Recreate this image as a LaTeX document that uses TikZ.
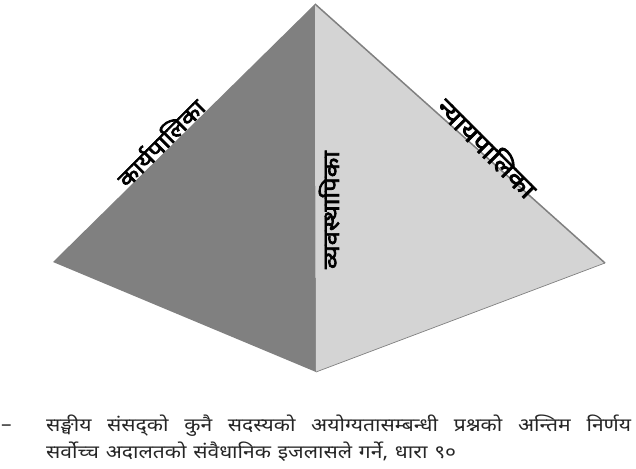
\documentclass[tikz,border=0pt]{standalone}
\usepackage{fontspec}
\setmainfont{Noto Sans}
\newfontfamily\deva[Script=Devanagari,FakeStretch=1.14]{Noto Sans}
\newfontfamily\devabold[Script=Devanagari,FakeBold=3,FakeStretch=1.14]{Noto Sans}
\tikzset{
  facedark/.style={fill=black!50!white, draw=none},
  facelight/.style={fill=black!17!white, draw=none},
  edgeline/.style={draw=black!50!white, line width=1.5pt},
  sidelabel/.style={font=\devabold\fontsize{22.5}{22.5}\selectfont, text=black, inner sep=0pt},
  bodytext/.style={font=\deva\fontsize{18.5}{18.5}\selectfont, text=black!85!white, inner sep=0pt, anchor=base west}
}
\begin{document}
\begin{tikzpicture}[x=1pt,y=-1pt]
\useasboundingbox (0,0) rectangle (636,468);
\coordinate (top) at (315,4);
\coordinate (left) at (53,262);
\coordinate (bot) at (316,372);
\coordinate (right) at (605,263);
\fill[facedark] (top) -- (left) -- (bot) -- cycle;
\fill[facelight] (top) -- (right) -- (bot) -- cycle;
\draw[edgeline, line join=round] (top) -- (right);
\draw[draw=black!50!white, line width=0.7pt] (right) -- (bot);
\node[sidelabel, rotate=45] (k) at (160,142) {कार्यपालिका};
\node[sidelabel, rotate=90] (v) at (329,210) {व्यवस्थापिका};
\node[sidelabel, font=\devabold\fontsize{25}{25}\selectfont, rotate=-45] (n) at (488,147) {न्यायपालिका};
\node[bodytext] (dash) at (1,430) {–};
\node[bodytext] (l1) at (46,431) {\hbox to 585pt{सङ्घीय\hfill संसद्को\hfill कुनै\hfill सदस्यको\hfill अयोग्यतासम्बन्धी\hfill प्रश्नको\hfill अन्तिम\hfill निर्णय}};
\node[bodytext] (l2) at (46,458) {\hbox to 410pt{सर्वोच्च\hfill अदालतको\hfill संवैधानिक\hfill इजलासले\hfill गर्ने,\hfill धारा\hfill ९०}};
\end{tikzpicture}
\end{document}
